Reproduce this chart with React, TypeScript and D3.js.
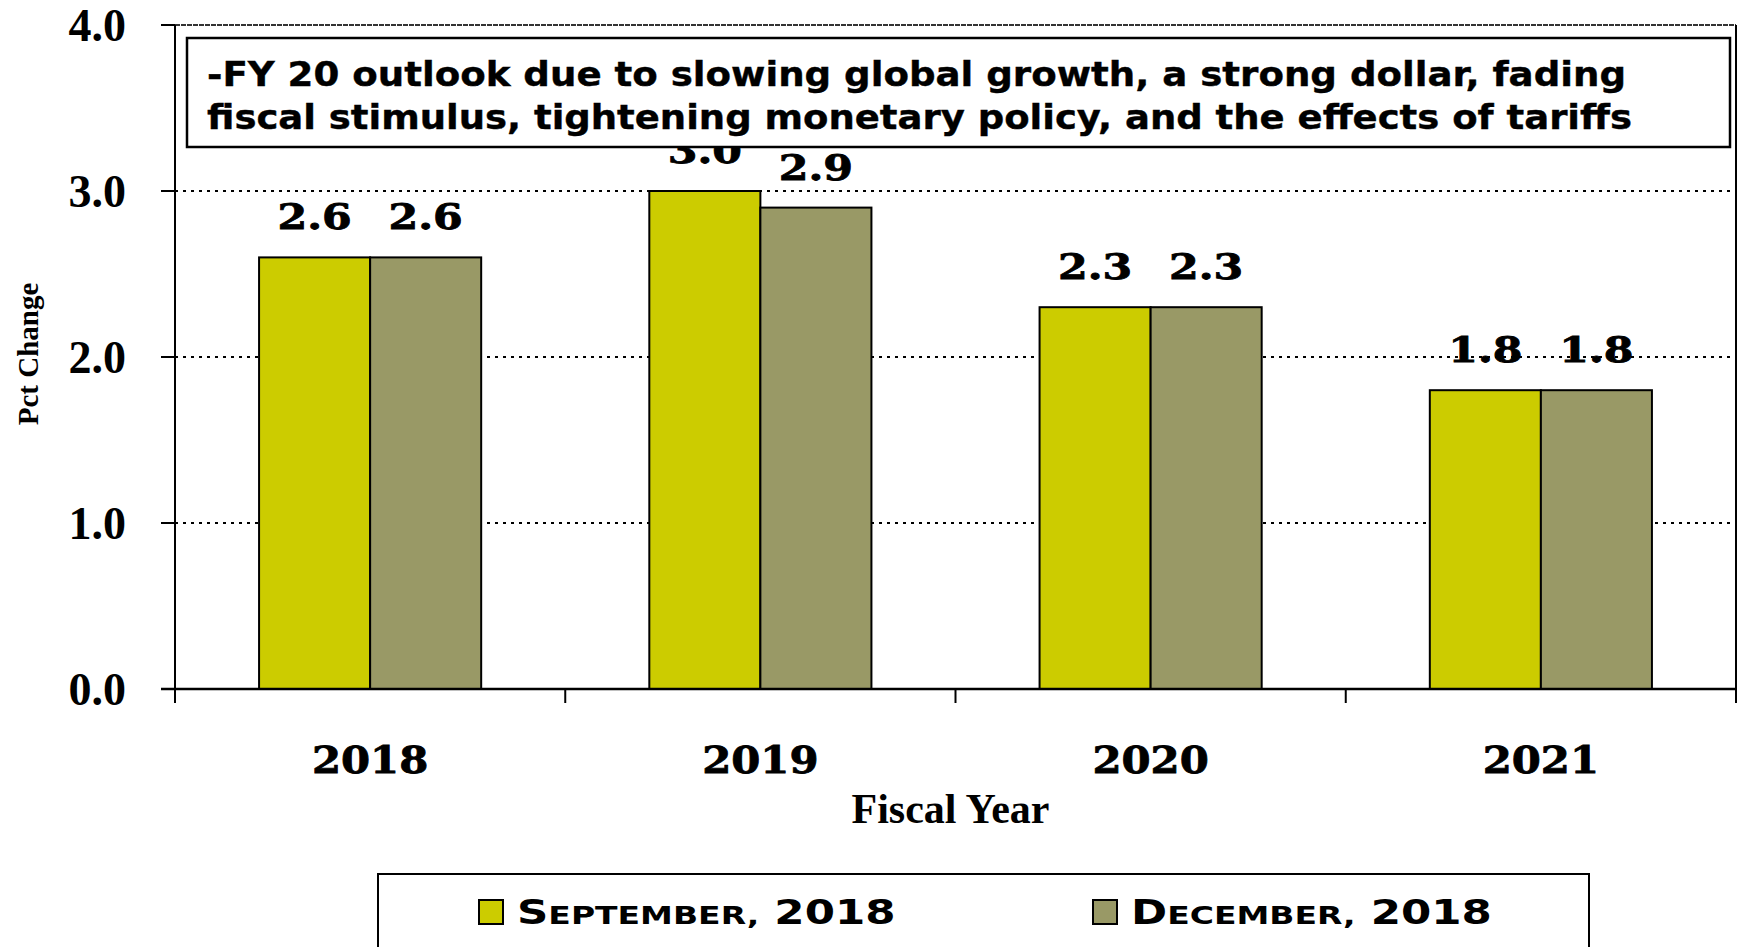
import React from 'react';
import * as d3 from 'd3';

const years = ['2018', '2019', '2020', '2021'];
const seriesNames = ['September, 2018', 'December, 2018'];
const septValues = [2.6, 3.0, 2.3, 1.8];
const decValues = [2.6, 2.9, 2.3, 1.8];
const yTicks = [0, 1, 2, 3, 4];
const seriesColors = ['#CCCC00', '#999966'];
const annotationLines = [
  '-FY 20 outlook due to slowing global growth, a strong dollar, fading',
  'fiscal stimulus, tightening monetary policy, and the effects of tariffs',
];
const xTitle = 'Fiscal Year';
const yTitle = 'Pct Change';

const W = 1744;
const H = 947;
const left = 175;
const right = 1736;
const top = 25;
const bottom = 689;

function smallCaps(label: string, big: number, small: number) {
  const parts: { t: string; s: number }[] = [];
  for (const ch of label) {
    const isLower = ch >= 'a' && ch <= 'z';
    const isPunct = ch === ',';
    const s = isLower || isPunct ? small : big;
    const t = ch.toUpperCase();
    if (parts.length && parts[parts.length - 1].s === s) parts[parts.length - 1].t += t;
    else parts.push({ t, s });
  }
  return parts.map((p, i) => (
    <tspan key={i} fontSize={p.s}>
      {p.t}
    </tspan>
  ));
}

export default function App() {
  const x = d3.scaleBand<string>().domain(years).range([left, right]).paddingInner(0).paddingOuter(0);
  const xSub = d3
    .scaleBand<string>()
    .domain(seriesNames)
    .range([0, x.bandwidth()])
    .paddingInner(0)
    .paddingOuter(0.757);
  const y = d3.scaleLinear().domain([0, 4]).range([bottom, top]);
  const seriesValues = [septValues, decValues];

  const serif = '"Liberation Serif", "Times New Roman", serif';
  const wideSerif = '"DejaVu Serif", serif';
  const sans = '"DejaVu Sans", Verdana, sans-serif';

  const xTickPositions = [...years.map((yr) => x(yr)!), right];

  return (
    <svg
      width={W}
      height={H}
      style={{ position: 'absolute', left: 0, top: 0, background: '#fff' }}
    >
      <rect x={0} y={0} width={W} height={H} fill="#fff" />
      {/* gridlines */}
      {yTicks
        .filter((t) => t > 0 && t < 4)
        .map((t) => (
          <line
            key={t}
            x1={left}
            x2={right}
            y1={y(t)}
            y2={y(t)}
            stroke="#000"
            strokeWidth={2}
            strokeDasharray="3,5"
          />
        ))}
      <line x1={left} x2={right} y1={y(4)} y2={y(4)} stroke="#333" strokeWidth={2} strokeDasharray="5,1" />
      <line x1={right} x2={right} y1={y(4)} y2={bottom + 14} stroke="#000" strokeWidth={2} />

      {/* bars */}
      {seriesNames.map((s, si) =>
        years.map((yr, i) => {
          const v = seriesValues[si][i];
          const bx = x(yr)! + xSub(s)!;
          return (
            <rect
              key={s + yr}
              x={bx}
              y={y(v)}
              width={xSub.bandwidth()}
              height={y(0) - y(v)}
              fill={seriesColors[si]}
              stroke="#000"
              strokeWidth={2}
            />
          );
        })
      )}

      {/* value labels */}
      {seriesNames.map((s, si) =>
        years.map((yr, i) => {
          const v = seriesValues[si][i];
          const cx = x(yr)! + xSub(s)! + xSub.bandwidth() / 2;
          const cy = y(v) - 28;
          return (
            <text
              key={'l' + s + yr}
              transform={`translate(${cx},${cy}) scale(1.22,1)`}
              textAnchor="middle"
              fontFamily={wideSerif}
              fontWeight="900"
              fontSize={35}
              stroke="#000"
              strokeWidth={0.8}
              fill="#000"
            >
              {d3.format('.1f')(v)}
            </text>
          );
        })
      )}

      {/* annotation box */}
      <rect x={187} y={38} width={1543} height={109} fill="#fff" stroke="#000" strokeWidth={2.5} />
      {annotationLines.map((ln, i) => (
        <text
          key={i}
          x={207}
          y={86 + i * 43}
          fontFamily={sans}
          fontWeight="bold"
          fontSize={34}
          textLength={i === 0 ? 1419 : 1425}
          lengthAdjust="spacingAndGlyphs"
          stroke="#000"
          strokeWidth={0.4}
          fill="#000"
        >
          {ln}
        </text>
      ))}

      {/* axes */}
      <line x1={left} x2={left} y1={top} y2={bottom + 14} stroke="#000" strokeWidth={2} />
      <line x1={left - 14} x2={right} y1={bottom} y2={bottom} stroke="#000" strokeWidth={2.5} />
      {yTicks.map((t) => (
        <g key={'yt' + t}>
          <line x1={left - 14} x2={left} y1={y(t)} y2={y(t)} stroke="#000" strokeWidth={2} />
          <text
            x={126}
            y={y(t)}
            dy="0.34em"
            textAnchor="end"
            fontFamily={serif}
            fontWeight="bold"
            fontSize={46}
            fill="#000"
          >
            {d3.format('.1f')(t)}
          </text>
        </g>
      ))}
      {xTickPositions.map((px, i) => (
        <line key={'xt' + i} x1={px} x2={px} y1={bottom} y2={bottom + 14} stroke="#000" strokeWidth={2} />
      ))}
      {years.map((yr) => (
        <text
          key={'xl' + yr}
          transform={`translate(${x(yr)! + x.bandwidth() / 2},773) scale(1.1,1)`}
          textAnchor="middle"
          fontFamily={wideSerif}
          fontWeight="bold"
          fontSize={38}
          stroke="#000"
          strokeWidth={0.8}
          fill="#000"
        >
          {yr}
        </text>
      ))}

      {/* axis titles */}
      <text
        x={(left + right) / 2 - 5}
        y={823}
        textAnchor="middle"
        fontFamily={serif}
        fontWeight="bold"
        fontSize={42}
        fill="#000"
      >
        {xTitle}
      </text>
      <text
        transform={`translate(38,354) rotate(-90)`}
        textAnchor="middle"
        fontFamily={serif}
        fontWeight="bold"
        fontSize={29}
        fill="#000"
      >
        {yTitle}
      </text>

      {/* legend */}
      <rect x={378} y={874} width={1211} height={100} fill="#fff" stroke="#000" strokeWidth={2} />
      {seriesNames.map((s, si) => {
        const sx = si === 0 ? 479 : 1093;
        return (
          <g key={'lg' + s}>
            <rect x={sx} y={900} width={24} height={24} fill={seriesColors[si]} stroke="#000" strokeWidth={2} />
            <text
              transform={`translate(${sx + 38},924) scale(1.32,1)`}
              fontFamily={sans}
              fontWeight="bold"
              fill="#000"
            >
              {smallCaps(s, 33, 25)}
            </text>
          </g>
        );
      })}
    </svg>
  );
}
